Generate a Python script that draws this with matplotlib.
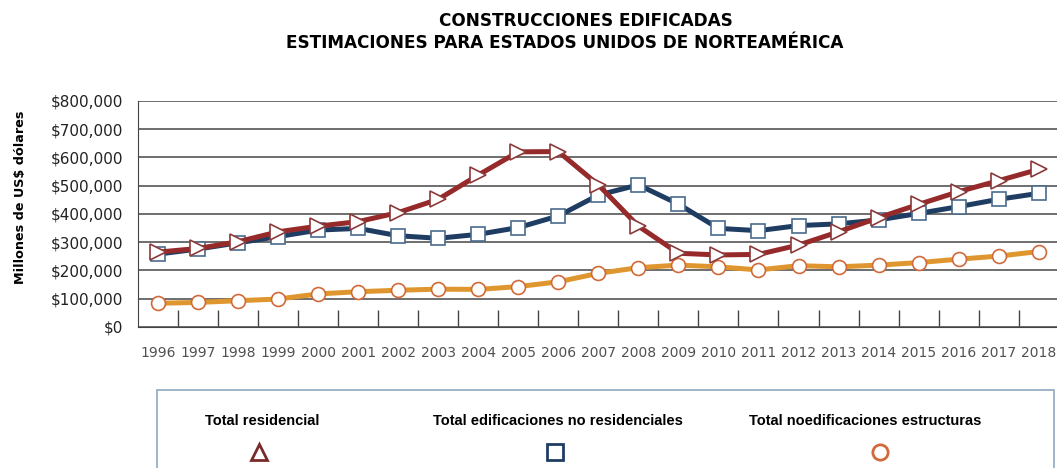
import matplotlib.pyplot as plt
from matplotlib.ticker import FuncFormatter, FixedLocator
from matplotlib.patches import Rectangle

years = [str(y) for y in range(1996, 2019)]
residencial = [265000, 278000, 302000, 337000, 357000, 373000, 405000, 452000, 538000, 620000,
               621000, 503000, 357000, 261000, 255000, 257000, 290000, 337000, 387000, 434000,
               479000, 518000, 558000]
no_residencial = [258000, 276000, 298000, 320000, 343000, 349000, 323000, 314000, 328000, 352000,
                  393000, 467000, 503000, 435000, 349000, 341000, 359000, 365000, 379000, 402000,
                  426000, 452000, 473000]
no_edificaciones = [84000, 87000, 93000, 99000, 117000, 125000, 130000, 134000, 133000, 143000,
                    160000, 190000, 210000, 219000, 213000, 202000, 217000, 213000, 219000, 228000,
                    240000, 251000, 267000]
labels = ["Total residencial", "Total edificaciones no residenciales", "Total noedificaciones estructuras"]

red, blue, orange = "#962a2a", "#1f3d63", "#e0962e"

fig = plt.figure(figsize=(10.57, 4.68), dpi=100)
ax = fig.add_axes([0.1306, 0.3013, 0.871, 0.4829])
x = range(len(years))

ax.plot(x, no_edificaciones, color=orange, lw=3.6, marker="o", ms=10, mfc="white",
        mec="#d06a3a", mew=1.2, zorder=3)
ax.plot(x, no_residencial, color=blue, lw=3.6, marker="s", ms=9.5, mfc="white",
        mec="#4a6b8c", mew=1.2, zorder=4)
ax.plot(x, residencial, color=red, lw=3.6, marker=">", ms=12, mfc="white",
        mec="#8b3a3a", mew=1.2, zorder=5)

ax.set_xlim(-0.5, len(years) - 0.5)
ax.set_ylim(0, 800000)
ax.set_yticks(range(0, 800001, 100000))
ax.yaxis.set_major_formatter(FuncFormatter(lambda v, p: "${:,.0f}".format(v)))
ax.set_xticks(list(x))
ax.set_xticklabels(years)
ax.xaxis.set_minor_locator(FixedLocator([i + 0.5 for i in x]))
ax.tick_params(axis="x", which="major", length=0, pad=14, labelsize=10, labelcolor="#505050")
ax.tick_params(axis="x", which="minor", direction="in", length=12, width=1, color="#444444")
ax.tick_params(axis="y", length=0, pad=11, labelsize=11, labelcolor="#222222")
ax.grid(axis="y", color="#555555", lw=1.2)
ax.set_axisbelow(True)
for s in ["top", "right"]:
    ax.spines[s].set_visible(False)
ax.spines["left"].set_color("#444444")
ax.spines["bottom"].set_color("#444444")
ax.set_ylabel("Millones de US$ dólares", fontsize=9.2, fontweight="bold")
ax.yaxis.set_label_coords(-0.121, 0.575)

fig.text(586 / 1057, 0.955, "CONSTRUCCIONES EDIFICADAS", ha="center", va="center",
         fontsize=12.2, fontweight="bold")
fig.text(565 / 1057, 0.908, "ESTIMACIONES PARA ESTADOS UNIDOS DE NORTEAMÉRICA", ha="center",
         va="center", fontsize=12.2, fontweight="bold")

# legend box
fig.add_artist(Rectangle((157 / 1057, -0.05), (1054 - 157) / 1057, 0.05 + (468 - 390) / 468,
                         transform=fig.transFigure, fill=False, edgecolor="#8fa9bf", lw=1.2))
leg = [(262, labels[0], "^", "#7a2a2a"),
       (558, labels[1], "s", "#1f3d63"),
       (865, labels[2], "o", "#d06a3a")]
mx = [259, 555, 880]
lax = fig.add_axes([0, 0, 1, 1], facecolor="none")
lax.set_xlim(0, 1057)
lax.set_ylim(468, 0)
lax.axis("off")
for i, (cx, txt, m, ec) in enumerate(leg):
    lax.text(cx, 421, txt, ha="center", va="center", fontsize=10.5, fontweight="bold",
             family="Liberation Sans")
    lax.plot([mx[i]], [452], marker=m, ms=11, mfc="white", mec=ec, mew=2, ls="none")

fig.savefig("out.png", dpi=100)
